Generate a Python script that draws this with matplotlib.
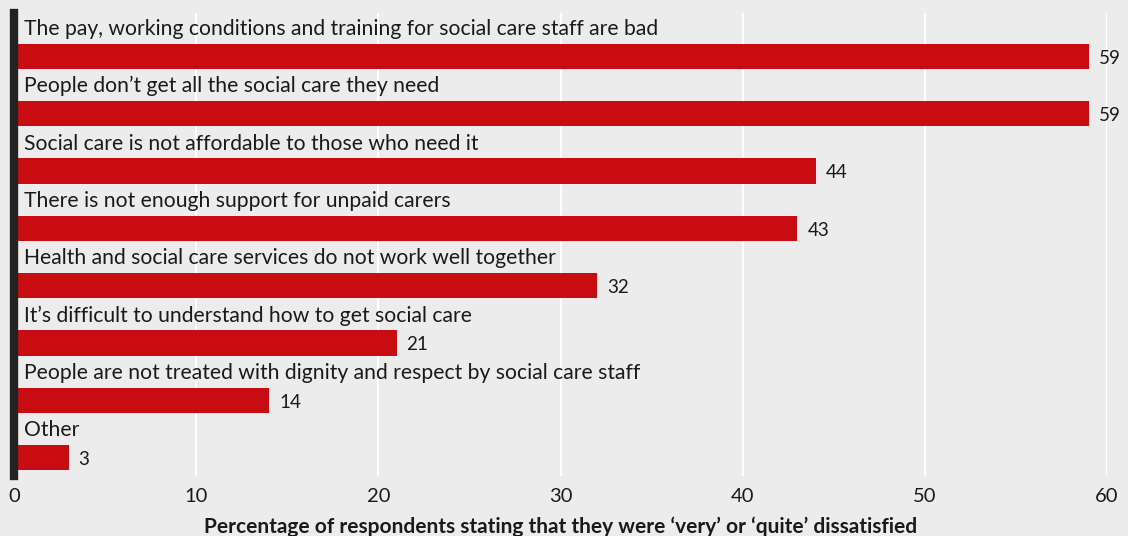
import matplotlib
matplotlib.use("Agg")
import matplotlib.pyplot as plt

# Survey reasons for dissatisfaction with social care
categories = [
    "The pay, working conditions and training for social care staff are bad",
    "People don\u2019t get all the social care they need",
    "Social care is not affordable to those who need it",
    "There is not enough support for unpaid carers",
    "Health and social care services do not work well together",
    "It\u2019s difficult to understand how to get social care",
    "People are not treated with dignity and respect by social care staff",
    "Other",
]
values = [59, 59, 44, 43, 32, 21, 14, 3]
x_ticks = [0, 10, 20, 30, 40, 50, 60]
x_label = "Percentage of respondents stating that they were \u2018very\u2019 or \u2018quite\u2019 dissatisfied"

bg = "#ececec"
bar_col = "#c80c12"
txt_col = "#1a1a1a"

plt.rcParams["font.family"] = ["Lato", "DejaVu Sans"]

fig = plt.figure(figsize=(11.28, 5.36), dpi=100, facecolor=bg)
ax = fig.add_axes([0.0124, 0.112, 0.969, 0.864], facecolor=bg)

ypos = list(range(len(categories)))
ax.barh(ypos, values, height=0.44, color=bar_col, zorder=3)

for y, cat, v in zip(ypos, categories, values):
    ax.text(0.55, y - 0.48, cat, ha="left", va="center", fontsize=15.2,
            color=txt_col, zorder=4)
    ax.text(v + 0.55, y + 0.03, str(v), ha="left", va="center", fontsize=13.5,
            color=txt_col, zorder=4)

ax.set_xlim(0, 60)
ax.set_ylim(7.32, -0.76)
ax.set_xticks(x_ticks)
ax.set_yticks([])
ax.tick_params(axis="x", length=0, pad=9, labelsize=14.5, labelcolor=txt_col)
ax.grid(axis="x", color="white", linewidth=1.4, zorder=1)
ax.set_axisbelow(True)

for side in ["top", "right", "bottom"]:
    ax.spines[side].set_visible(False)
ax.spines["left"].set_color("#222222")
ax.spines["left"].set_linewidth(6)
ax.spines["left"].set_zorder(5)

ax.set_xlabel(x_label, fontsize=15, fontweight="bold", color=txt_col, labelpad=8)

fig.savefig("out.png", dpi=100, facecolor=bg)
